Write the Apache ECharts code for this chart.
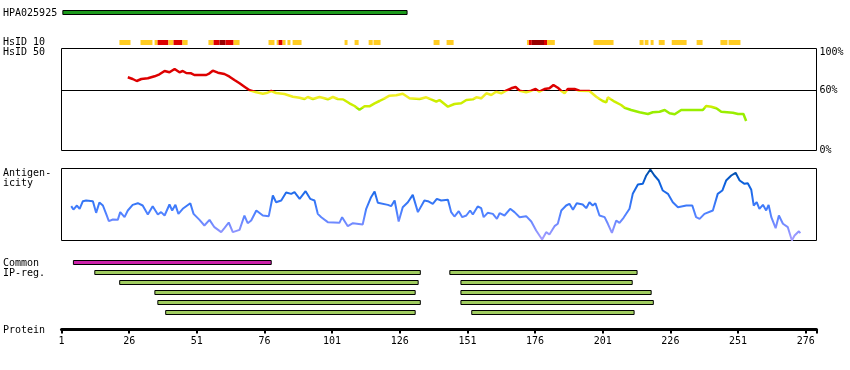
<!DOCTYPE html>
<html>
<head>
<meta charset="utf-8">
<script src="https://cdn.jsdelivr.net/npm/echarts@6/dist/echarts.min.js"></script>
<style>
html,body{margin:0;padding:0;background:#fff;}
#chart{width:850px;height:370px;}
</style>
</head>
<body>
<div id="chart"></div>
<script>
// ---------------- data ----------------
const residueMin = 1;
const residueMax = 280;
const tickResidues = [1, 26, 51, 76, 101, 126, 151, 176, 201, 226, 251, 276];

const hpaName = 'HPA025925';
const hpaRange = [1.5, 128.7];

// HsID 10 blocks: [start, end, level]  level 1 = low, 2 = medium, 3 = high
const hsid10Blocks = [
  [22.4,26.5,1],[30.2,34.6,1],[35.4,36.5,1],[36.5,40.5,2],[40.5,42.4,1],[42.4,45.7,2],[45.7,47.6,1],
  [55.3,57.2,1],[57.2,59.4,2],[59.4,61.6,3],[61.6,64.6,2],[64.6,66.8,1],
  [77.5,79.7,1],[80.5,81.2,1],[81.2,82.7,2],[82.7,83.8,1],[84.5,85.6,1],[86.4,89.7,1],
  [105.6,106.7,1],[109.3,110.8,1],[114.5,116.0,1],[116.3,118.9,1],
  [138.5,140.7,1],[143.3,145.9,1],
  [173.0,173.7,1],[173.7,174.8,2],[174.8,179.3,3],[179.3,180.4,2],[180.4,183.3,1],
  [197.6,205.0,1],[214.6,216.1,1],[216.5,217.9,1],[218.7,219.8,1],[221.7,223.9,1],
  [226.5,232.0,1],[235.7,237.9,1],[244.5,247.1,1],[247.5,251.9,1]
];

// HsID 50 identity curve: [residue, percent]
const hsid50 = [
  [25.5,73.2],[27.3,71.5],[28.8,69.5],[30.5,71.5],[32.9,72.2],[35.4,74.2],[37.2,76.2],[39.1,79.5],
  [40.9,78.2],[42.8,81.5],[44.6,78.2],[45.8,79.5],[47.1,77.5],[48.9,77.2],[50.1,75.5],[54.5,75.5],
  [55.7,77.2],[56.9,79.8],[58.8,77.8],[61.2,76.5],[63.1,73.8],[64.9,70.5],[66.8,67.2],[68.6,63.8],
  [70.5,60.2],[73.0,58.2],[75.4,56.8],[77.2,57.8],[78.5,59.5],[80.3,57.5],[83.4,56.5],[86.5,53.8],
  [89.0,52.8],[90.8,51.5],[92.0,53.5],[93.9,51.5],[96.3,53.5],[98.2,52.2],[99.4,51.2],[101.3,53.5],
  [103.1,51.5],[105.0,51.2],[107.4,47.2],[109.3,44.5],[111.1,40.8],[113.0,44.2],[114.8,44.2],[116.7,47.2],
  [118.5,49.5],[120.4,52.2],[122.2,54.8],[124.7,55.2],[127.1,56.8],[129.6,52.2],[133.3,51.5],[135.8,53.2],
  [137.6,51.2],[139.5,48.8],[140.7,50.5],[143.8,43.8],[146.2,46.5],[148.7,47.2],[150.6,50.5],[153.0,51.2],
  [154.3,53.2],[156.1,52.2],[158.0,57.2],[159.8,55.5],[161.6,58.8],[163.5,57.2],[165.3,59.8],[167.2,62.2],
  [168.8,63.5],[170.3,59.8],[172.7,58.2],[174.6,59.8],[176.2,61.5],[177.6,58.8],[179.5,61.5],[181.3,62.2],
  [182.8,65.5],[184.4,62.8],[185.7,59.5],[186.9,57.2],[188.1,61.5],[190.6,61.5],[192.4,59.8],[196.1,59.5],
  [198.6,53.8],[201.0,49.5],[202.3,48.2],[202.9,53.2],[205.4,48.8],[207.8,45.5],[209.1,42.8],[211.5,40.5],
  [214.6,38.2],[217.7,36.5],[219.5,38.2],[222.0,38.8],[223.9,40.5],[225.7,37.2],[227.6,36.2],[230.0,40.5],
  [234.3,40.5],[238.0,40.5],[239.2,44.5],[241.1,43.8],[243.0,42.2],[244.8,38.8],[249.1,37.8],[251.0,36.5],
  [253.0,36.5],[254.0,29.5]
];
const hsidThreshold = 60;
const hsidTicks = [0, 60, 100];

// Antigenicity profile: [residue, relative score]
const antigenicity = [
  [4.6,47.7],[5.4,43],[6.7,48.6],[7.7,44],[8.9,54.6],[10.1,55.6],[12.6,54.6],[13.8,38.4],[15.0,52.8],
  [16.3,48.6],[17.5,37],[18.5,26.8],[20.0,29.2],[21.8,28.7],[22.7,39.4],[24.3,32.4],[25.5,41.7],[27.3,49.5],
  [29.2,51.8],[31.0,48.6],[32.9,36.1],[34.7,47.7],[36.6,36.1],[37.8,39.4],[39.1,34.7],[40.9,50],[41.9,41.7],
  [43.1,49.5],[44.2,37],[45.8,44],[48.6,51.8],[49.8,37],[52.0,28.7],[53.8,20.8],[55.7,28.7],[57.5,18.5],
  [60.0,11.6],[61.2,17.1],[62.8,25],[64.3,11.6],[66.8,14.8],[68.6,34.7],[69.8,24],[71.1,27.8],[73.0,41.7],
  [75.4,34.7],[77.6,33.8],[79.1,62.5],[80.3,53.2],[82.2,55.6],[84.0,66.7],[85.9,64.8],[87.1,67.1],[89.0,57.9],
  [91.2,68.5],[92.9,57.9],[94.5,55.6],[95.7,37],[97.0,32.4],[99.4,25.5],[103.7,24.5],[104.7,32.4],[106.8,19.9],
  [108.7,24],[112.3,22.2],[113.6,44],[115.4,60.2],[116.7,68],[117.9,52.3],[121.6,49.5],[122.8,47.7],[124.1,55.6],
  [125.6,26.4],[127.1,46.3],[129.0,53.2],[130.8,63.4],[132.7,39.4],[135.1,55.6],[136.4,54.6],[138.2,50.9],
  [139.7,57.9],[141.3,55.6],[143.8,56.5],[145.0,39.4],[146.2,33.3],[147.8,40.7],[149.1,32.4],[150.6,34.7],
  [152.0,41.7],[153.0,36.1],[154.8,47.2],[156.1,44.9],[157.0,32.4],[158.5,38.4],[160.4,37],[161.9,30.1],
  [162.9,37.9],[164.7,34.7],[166.8,44],[168.4,39.4],[170.3,32.4],[172.7,33.8],[174.6,26.4],[176.4,13.9],
  [178.6,1.4],[180.1,11.6],[181.3,8.3],[183.2,19.9],[184.4,23.2],[185.7,41.7],[187.5,48.6],[188.7,50.9],
  [190.0,42.6],[191.4,51.8],[193.6,50],[194.9,44.9],[196.1,53.2],[197.3,48.6],[198.3,51.8],[199.8,34.7],
  [201.7,32.4],[202.9,23.2],[204.4,10.6],[206.0,27.8],[207.2,24.5],[208.7,31.5],[210.9,44],[212.1,64.8],
  [214.0,77.8],[215.8,78.7],[217.1,90.3],[218.6,98.6],[220.1,90.3],[221.7,83.3],[223.2,69.4],[225.1,64.8],
  [226.9,53.2],[228.8,46.3],[231.9,48.6],[234.1,48.6],[235.5,32.4],[236.8,30.1],[238.6,37],[241.7,41.7],
  [243.5,64.8],[245.2,69.4],[246.6,83.3],[248.5,90.3],[250.1,94],[251.6,83.3],[253.4,78.7],[254.6,79.6],
  [255.9,70.4],[256.8,48.6],[257.9,53.2],[258.9,44],[260.2,49.5],[261.4,41.7],[262.3,49.5],[263.3,32.4],
  [264.9,17.1],[266.1,34.7],[267.6,23.2],[269.4,18.5],[270.9,0],[271.9,6.9],[273.5,12.9],[274.0,10.1]
];

// Common IP regions: [row, start, end, kind]  kind 0 = common region, 1 = IP region
const ipRegions = [
  [0, 5.4, 78.5, 0],
  [1, 13.3, 133.6, 1], [1, 144.5, 213.7, 1],
  [2, 22.5, 132.8, 1], [2, 148.6, 211.9, 1],
  [3, 35.5, 131.7, 1], [3, 148.6, 218.9, 1],
  [4, 36.6, 133.6, 1], [4, 148.6, 219.7, 1],
  [5, 39.5, 131.7, 1], [5, 152.6, 212.6, 1]
];
const ipRowCount = 6;

const trackLabels = [hpaName, 'HsID 10', 'HsID 50', 'Antigen-', 'icity', 'Common', 'IP-reg.', 'Protein'];

// ---------------- layout / style ----------------
const trackLabelY = [13, 42.5, 52.5, 173, 183, 263, 273, 330];
const FONT = '"DejaVu Sans Mono", monospace';
const hsid10Colors = {1: '#ffcc22', 2: '#dd0000', 3: '#990000'};
const ipColors = {0: '#cc22aa', 1: '#a0cc60'};
const hpaColor = '#1c9a1c';

const L = 61.5, W = 755;
const grids = [
  {left: L, width: W, top: 10.5, height: 4},      // HPA
  {left: L, width: W, top: 40, height: 5},        // HsID 10
  {left: L, width: W, top: 48.5, height: 102, show: true, borderColor: '#000', borderWidth: 1}, // HsID 50
  {left: L, width: W, top: 168.5, height: 72, show: true, borderColor: '#000', borderWidth: 1}, // antigenicity
  {left: L, width: W, top: 257.5, height: 60},    // IP regions
  {left: L, width: W, top: 300, height: 29.5}     // protein axis
];

const xAxes = grids.map((g, i) => ({
  type: 'value', gridIndex: i, min: residueMin, max: residueMax, show: i === 5,
  axisLine: {show: true, onZero: false, lineStyle: {color: '#000', width: 3}},
  axisTick: {show: true, customValues: tickResidues.concat([residueMax]), length: 4, lineStyle: {color: '#000', width: 2}},
  axisLabel: {show: true, customValues: tickResidues, color: '#000', fontFamily: FONT, fontSize: 10, margin: 7},
  splitLine: {show: false}
}));

const yAxes = [
  {type: 'value', gridIndex: 0, min: 0, max: 1, show: false},
  {type: 'value', gridIndex: 1, min: 0, max: 1, show: false},
  {type: 'value', gridIndex: 2, min: 0, max: 102, position: 'right',
    axisLine: {show: false}, axisTick: {show: false}, splitLine: {show: false},
    axisLabel: {show: true, customValues: hsidTicks, margin: 3, color: '#000', fontFamily: FONT, fontSize: 10,
      formatter: v => v === 100 ? '{top|100%}' : v + '%',
      rich: {top: {padding: [4, 0, 0, 0], color: '#000', fontFamily: FONT, fontSize: 10}}}},
  {type: 'value', gridIndex: 3, min: 0, max: 100, show: false},
  {type: 'value', gridIndex: 4, min: 0, max: ipRowCount, inverse: true, show: false},
  {type: 'value', gridIndex: 5, min: 0, max: 1, show: false}
];

function rectRenderer(fillFn, stroke, heightFrac) {
  return function (params, api) {
    const row = api.value(2);
    const a = api.coord([api.value(0), row]);
    const b = api.coord([api.value(1), row]);
    const h = api.size([0, 1])[1] * heightFrac;
    return {
      type: 'rect',
      shape: {x: a[0], y: a[1] - h / 2, width: b[0] - a[0], height: h},
      style: {fill: fillFn(api.value(3)), stroke: stroke ? '#000' : null, lineWidth: stroke ? 1 : 0}
    };
  };
}

const series = [
  {type: 'custom', xAxisIndex: 0, yAxisIndex: 0,
    renderItem: rectRenderer(() => hpaColor, true, 1),
    data: [[hpaRange[0], hpaRange[1], 0.5, 0]]},
  {type: 'custom', xAxisIndex: 1, yAxisIndex: 1,
    renderItem: rectRenderer(k => hsid10Colors[k], false, 1),
    data: hsid10Blocks.map(b => [b[0], b[1], 0.5, b[2]])},
  {type: 'line', xAxisIndex: 2, yAxisIndex: 2, symbol: 'none', silent: true,
    lineStyle: {color: '#000', width: 1},
    data: [[residueMin, hsidThreshold], [residueMax, hsidThreshold]]},
  {type: 'line', xAxisIndex: 2, yAxisIndex: 2, symbol: 'none', showSymbol: false,
    lineStyle: {width: 2.5}, data: hsid50},
  {type: 'line', xAxisIndex: 3, yAxisIndex: 3, symbol: 'none', showSymbol: false,
    lineStyle: {width: 2}, data: antigenicity},
  {type: 'custom', xAxisIndex: 4, yAxisIndex: 4,
    renderItem: rectRenderer(k => ipColors[k], true, 0.4),
    data: ipRegions.map(r => [r[1], r[2], r[0] + 0.5, r[3]])}
];

const option = {
  animation: false,
  backgroundColor: '#fff',
  grid: grids,
  xAxis: xAxes,
  yAxis: yAxes,
  visualMap: [
    {type: 'piecewise', show: false, seriesIndex: 3, dimension: 1,
      pieces: [
        {gte: 60, color: '#dd0000'},
        {gte: 51, lt: 60, color: '#eeee22'},
        {gte: 42, lt: 51, color: '#ccee00'},
        {lt: 42, color: '#99ee00'}
      ]},
    {type: 'continuous', show: false, seriesIndex: 4, dimension: 1, min: 0, max: 100,
      inRange: {color: ['#aaa0ff', '#7a8cff', '#4a80ff', '#2a70f0', '#0a60dd', '#004a9a']}}
  ],
  series: series,
  graphic: trackLabels.map((t, i) => ({
    type: 'text', x: 3, y: trackLabelY[i], silent: true,
    style: {text: t, font: '10px ' + FONT, fill: '#000', verticalAlign: 'middle', align: 'left'}
  }))
};

const chart = echarts.init(document.getElementById('chart'), null, {renderer: 'canvas'});
chart.setOption(option);
</script>
</body>
</html>
